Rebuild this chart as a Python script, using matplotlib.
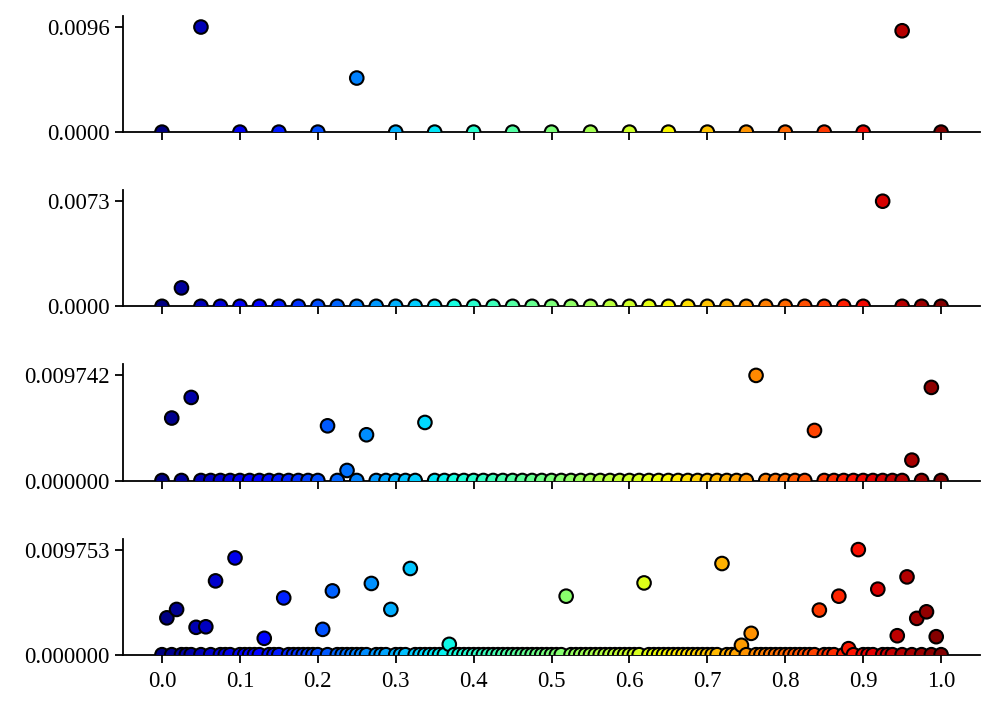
import numpy as np
import matplotlib
matplotlib.use('Agg')
import matplotlib.pyplot as plt
from matplotlib.ticker import FormatStrFormatter

# one row per resolution: number of samples, nonzero (index, value) pairs
n_points = [21, 41, 81, 161]

idx_1 = [1, 5, 19]
val_1 = [0.0096, 0.00494, 0.00926]

idx_2 = [1, 37]
val_2 = [0.00128, 0.0073]

idx_3 = [1, 3, 17, 19, 21, 27, 61, 67, 77, 79]
val_3 = [0.00579, 0.0077, 0.00507, 0.00093, 0.00424, 0.00538,
         0.009742, 0.00464, 0.00189, 0.00863]

idx_4 = [1, 3, 7, 9, 11, 15, 21, 25, 33, 35, 43, 47, 51, 59,
         83, 99, 115, 119, 121, 135, 139, 141, 143, 147, 151, 153, 155, 157, 159]
val_4 = [0.00342, 0.0042, 0.00254, 0.00259, 0.00685, 0.00898, 0.00152, 0.00527,
         0.00235, 0.00592, 0.00661, 0.0042, 0.008, 0.00096,
         0.00543, 0.00666, 0.00846, 0.00087, 0.00198, 0.00414, 0.00543, 0.00056,
         0.009753, 0.00608, 0.00176, 0.00722, 0.00337, 0.00398, 0.00167]

tick_fmt = ['%.4f', '%.4f', '%.6f', '%.6f']

rows = [(idx_1, val_1), (idx_2, val_2), (idx_3, val_3), (idx_4, val_4)]

plt.rcParams['font.family'] = ['Liberation Serif', 'DejaVu Serif']
plt.rcParams['font.size'] = 16.5

fig, axes = plt.subplots(4, 1, figsize=(9.97, 7.11), dpi=100, sharex=True)
fig.subplots_adjust(left=0.1234, right=0.983, top=0.9775, bottom=0.0792, hspace=0.5)

for ax, n, (idx, val), fmt in zip(axes, n_points, rows, tick_fmt):
    x = np.linspace(0, 1, n)
    y = np.zeros(n)
    y[idx] = val
    ax.scatter(x, y, c=x, cmap='jet', vmin=0, vmax=1, s=95,
               edgecolors='black', linewidths=1.5, zorder=3)
    ymax = y.max()
    ax.set_ylim(0, ymax * 1.105)
    ax.set_yticks([0, ymax])
    ax.yaxis.set_major_formatter(FormatStrFormatter(fmt))
    ax.set_xlim(-0.05, 1.05)
    ax.set_xticks(np.arange(0, 1.01, 0.1))
    ax.spines['top'].set_visible(False)
    ax.spines['right'].set_visible(False)
    for s in ['left', 'bottom']:
        ax.spines[s].set_linewidth(1.3)
    ax.tick_params(direction='out', length=6, width=1.3)

axes[-1].xaxis.set_major_formatter(FormatStrFormatter('%.1f'))
axes[-1].tick_params(axis='x', pad=6)

plt.savefig('out.png')
